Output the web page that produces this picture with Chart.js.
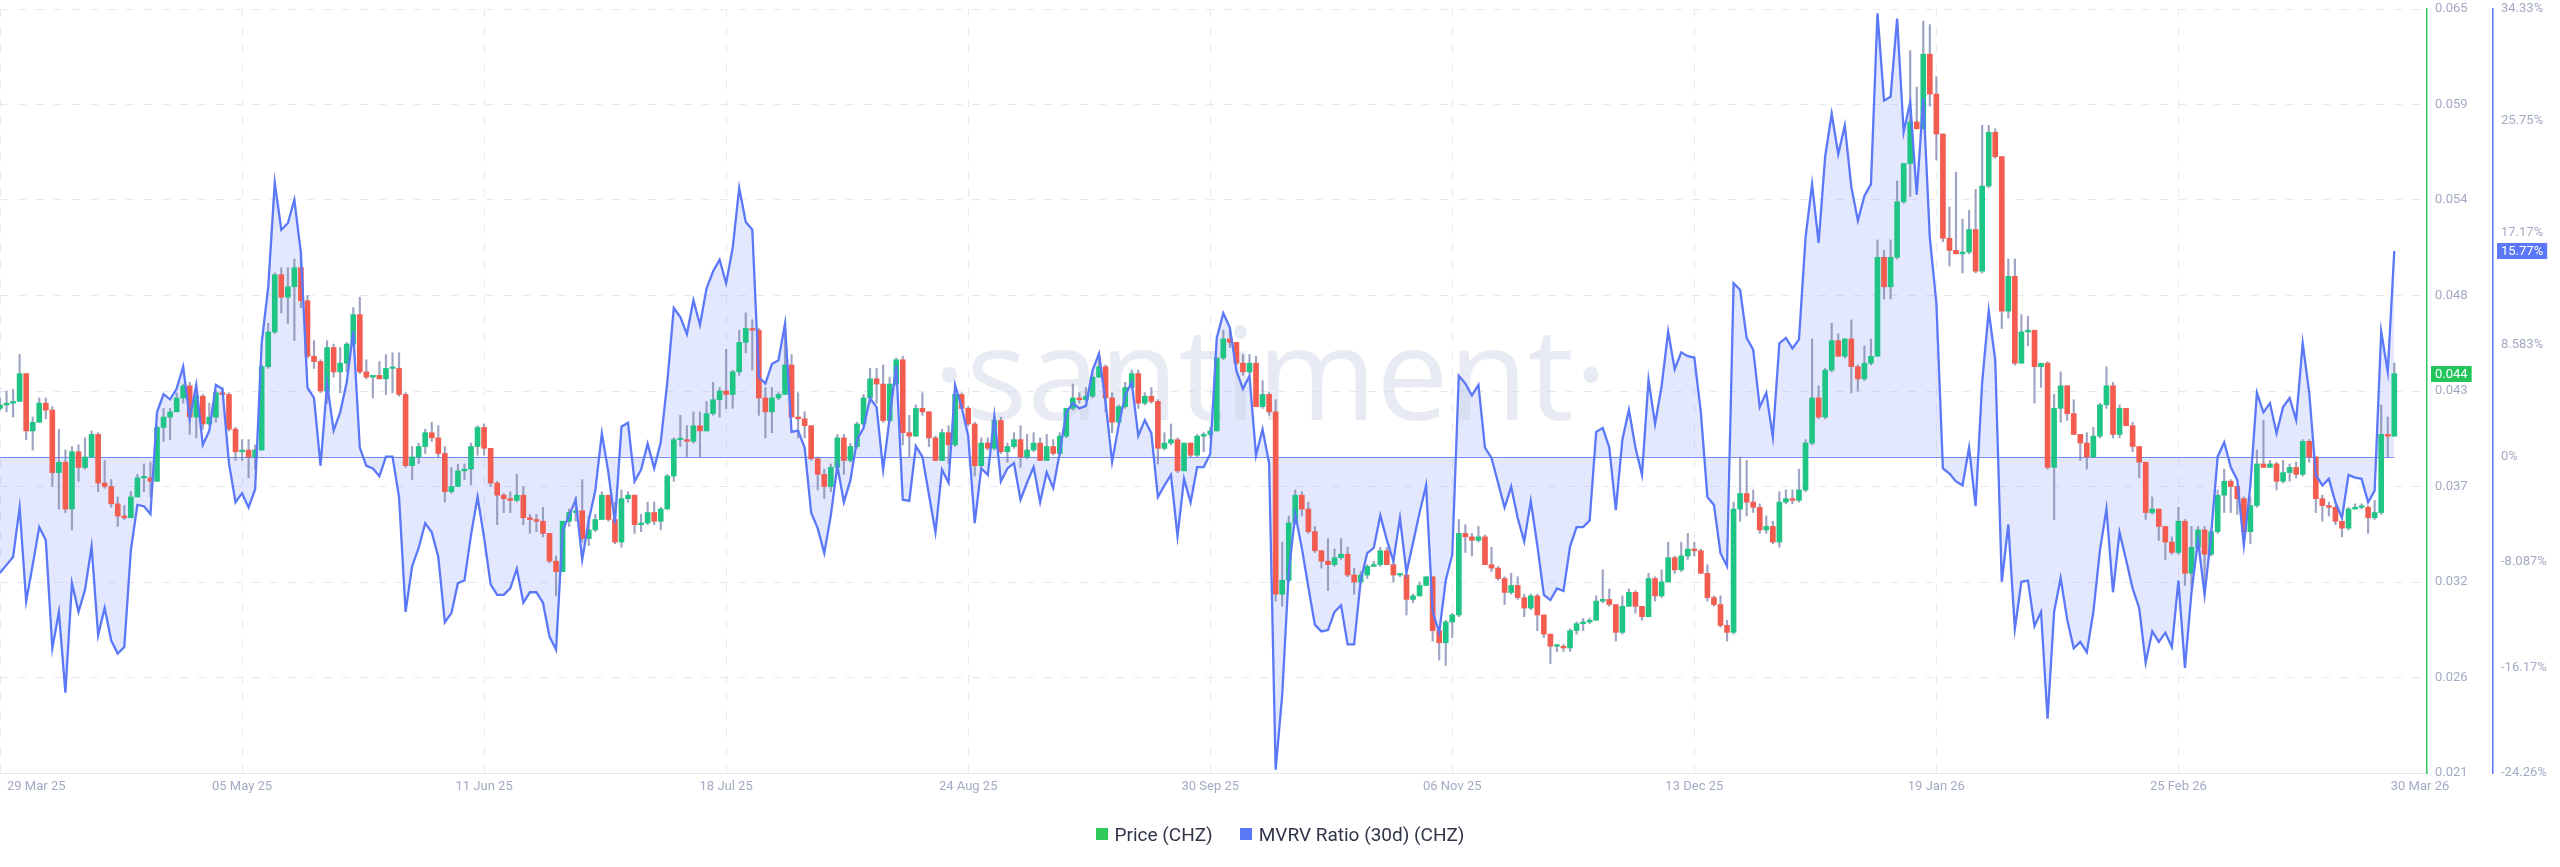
<!DOCTYPE html>
<html>
<head>
<meta charset="utf-8">
<script src="https://cdn.jsdelivr.net/npm/chart.js@4.4.1/dist/chart.umd.min.js"></script>
<style>
  html, body { margin: 0; padding: 0; background: #fff; }
  #wrap { position: relative; width: 2560px; height: 867px; }
  #legend {
    position: absolute; left: 0; right: 0; top: 823px; height: 22px;
    display: flex; justify-content: center; align-items: center;
    font-family: Roboto, sans-serif; font-size: 19px; color: #30354a;
  }
  #legend .sw { display: inline-block; width: 12px; height: 12px; margin-right: 7px; }
  #legend .gap { display: inline-block; width: 27px; }
</style>
</head>
<body>
<div id="wrap">
  <canvas id="chart" width="2560" height="867"></canvas>
  <div id="legend">
    <span class="sw" style="background:#2ecb5c"></span><span>Price (CHZ)</span>
    <span class="gap"></span>
    <span class="sw" style="background:#5a78f8"></span><span>MVRV Ratio (30d) (CHZ)</span>
  </div>
</div>
<script>
// daily data, 29 Mar 25 (day 0) .. 30 Mar 26 (day 366)
const firstOpen = 0.0420;

const closes = [
  0.0422,0.0423,0.0424,0.0440,0.0407,0.0412,0.0423,0.0419,0.0383,0.0389,
  0.0362,0.0395,0.0386,0.0392,0.0405,0.0377,0.0375,0.0365,0.0358,0.0357,
  0.0369,0.0380,0.0380,0.0378,0.0409,0.0415,0.0418,0.0426,0.0433,0.0415,
  0.0427,0.0411,0.0415,0.0429,0.0428,0.0408,0.0395,0.0396,0.0392,0.0396,
  0.0444,0.0464,0.0497,0.0484,0.0490,0.0501,0.0482,0.0450,0.0447,0.0430,
  0.0455,0.0441,0.0446,0.0457,0.0474,0.0441,0.0438,0.0439,0.0437,0.0443,
  0.0443,0.0428,0.0387,0.0392,0.0398,0.0406,0.0403,0.0394,0.0372,0.0375,
  0.0384,0.0385,0.0398,0.0409,0.0397,0.0377,0.0370,0.0368,0.0367,0.0370,
  0.0357,0.0356,0.0355,0.0348,0.0332,0.0326,0.0355,0.0360,0.0361,0.0345,
  0.0350,0.0356,0.0370,0.0356,0.0343,0.0368,0.0370,0.0353,0.0354,0.0360,
  0.0355,0.0362,0.0381,0.0402,0.0402,0.0401,0.0410,0.0407,0.0417,0.0425,
  0.0430,0.0428,0.0441,0.0458,0.0466,0.0465,0.0426,0.0418,0.0426,0.0428,
  0.0445,0.0415,0.0414,0.0410,0.0391,0.0382,0.0375,0.0386,0.0403,0.0390,
  0.0398,0.0411,0.0426,0.0437,0.0434,0.0413,0.0434,0.0448,0.0406,0.0404,
  0.0420,0.0418,0.0403,0.0390,0.0406,0.0399,0.0428,0.0420,0.0411,0.0387,
  0.0400,0.0397,0.0413,0.0395,0.0398,0.0402,0.0392,0.0396,0.0400,0.0390,
  0.0398,0.0394,0.0404,0.0420,0.0426,0.0425,0.0427,0.0438,0.0444,0.0426,
  0.0412,0.0421,0.0432,0.0440,0.0423,0.0427,0.0424,0.0397,0.0400,0.0402,
  0.0384,0.0400,0.0393,0.0404,0.0405,0.0407,0.0449,0.0460,0.0458,0.0446,
  0.0441,0.0446,0.0421,0.0428,0.0418,0.0313,0.0321,0.0354,0.0370,0.0362,
  0.0349,0.0338,0.0332,0.0330,0.0334,0.0336,0.0324,0.0320,0.0324,0.0329,
  0.0330,0.0338,0.0330,0.0324,0.0324,0.0310,0.0312,0.0318,0.0323,0.0292,
  0.0285,0.0297,0.0301,0.0348,0.0346,0.0344,0.0346,0.0330,0.0328,0.0322,
  0.0314,0.0318,0.0311,0.0305,0.0312,0.0301,0.0290,0.0283,0.0283,0.0282,
  0.0292,0.0296,0.0297,0.0298,0.0309,0.0310,0.0307,0.0291,0.0306,0.0314,
  0.0306,0.0300,0.0322,0.0312,0.0320,0.0334,0.0327,0.0335,0.0339,0.0338,
  0.0325,0.0311,0.0307,0.0295,0.0291,0.0362,0.0371,0.0366,0.0363,0.0350,
  0.0352,0.0343,0.0366,0.0368,0.0367,0.0373,0.0400,0.0426,0.0415,0.0442,
  0.0459,0.0450,0.0460,0.0444,0.0437,0.0446,0.0450,0.0507,0.0490,0.0507,
  0.0539,0.0561,0.0585,0.0581,0.0624,0.0601,0.0578,0.0518,0.0511,0.0509,
  0.0510,0.0523,0.0499,0.0548,0.0579,0.0565,0.0476,0.0496,0.0446,0.0464,
  0.0465,0.0444,0.0446,0.0386,0.0420,0.0433,0.0417,0.0405,0.0400,0.0392,
  0.0404,0.0422,0.0433,0.0405,0.0420,0.0410,0.0398,0.0389,0.0360,0.0362,
  0.0352,0.0343,0.0337,0.0355,0.0325,0.0340,0.0350,0.0336,0.0349,0.0370,
  0.0378,0.0375,0.0368,0.0349,0.0364,0.0388,0.0386,0.0388,0.0378,0.0383,
  0.0386,0.0382,0.0401,0.0392,0.0368,0.0364,0.0363,0.0355,0.0351,0.0362,
  0.0363,0.0363,0.0357,0.0360,0.0405,0.0404,0.0440
];

const highs = [
  0.0426,0.0430,0.0431,0.0451,0.0440,0.0415,0.0426,0.0426,0.0421,0.0408,
  0.0396,0.0398,0.0399,0.0403,0.0407,0.0406,0.0390,0.0379,0.0369,0.0364,
  0.0372,0.0382,0.0388,0.0389,0.0410,0.0420,0.0420,0.0429,0.0434,0.0435,
  0.0428,0.0428,0.0423,0.0430,0.0432,0.0429,0.0409,0.0402,0.0402,0.0399,
  0.0445,0.0469,0.0498,0.0501,0.0501,0.0506,0.0511,0.0485,0.0459,0.0448,
  0.0459,0.0457,0.0455,0.0458,0.0478,0.0484,0.0448,0.0439,0.0447,0.0451,
  0.0452,0.0452,0.0429,0.0398,0.0400,0.0408,0.0412,0.0410,0.0398,0.0386,
  0.0388,0.0388,0.0400,0.0410,0.0411,0.0397,0.0378,0.0371,0.0372,0.0382,
  0.0375,0.0359,0.0359,0.0363,0.0348,0.0335,0.0355,0.0362,0.0369,0.0379,
  0.0358,0.0359,0.0372,0.0370,0.0366,0.0373,0.0372,0.0370,0.0359,0.0366,
  0.0366,0.0363,0.0382,0.0403,0.0416,0.0410,0.0418,0.0418,0.0424,0.0435,
  0.0432,0.0454,0.0442,0.0465,0.0475,0.0471,0.0466,0.0432,0.0432,0.0429,
  0.0469,0.0451,0.0429,0.0418,0.0410,0.0392,0.0385,0.0388,0.0405,0.0405,
  0.0400,0.0412,0.0428,0.0443,0.0443,0.0445,0.0438,0.0449,0.0450,0.0416,
  0.0422,0.0429,0.0418,0.0404,0.0408,0.0410,0.0429,0.0429,0.0421,0.0412,
  0.0403,0.0403,0.0414,0.0415,0.0400,0.0406,0.0410,0.0405,0.0406,0.0403,
  0.0405,0.0402,0.0406,0.0420,0.0434,0.0429,0.0432,0.0441,0.0451,0.0445,
  0.0429,0.0422,0.0435,0.0442,0.0442,0.0429,0.0432,0.0425,0.0406,0.0411,
  0.0403,0.0400,0.0400,0.0405,0.0406,0.0409,0.0449,0.0465,0.0465,0.0458,
  0.0451,0.0451,0.0450,0.0436,0.0429,0.0425,0.0343,0.0358,0.0373,0.0372,
  0.0366,0.0352,0.0338,0.0345,0.0339,0.0345,0.0340,0.0328,0.0326,0.0330,
  0.0332,0.0340,0.0340,0.0333,0.0325,0.0325,0.0313,0.0320,0.0323,0.0323,
  0.0293,0.0298,0.0302,0.0356,0.0353,0.0348,0.0352,0.0347,0.0340,0.0329,
  0.0323,0.0325,0.0323,0.0313,0.0313,0.0313,0.0301,0.0289,0.0284,0.0284,
  0.0293,0.0297,0.0299,0.0299,0.0312,0.0327,0.0316,0.0306,0.0312,0.0316,
  0.0315,0.0306,0.0325,0.0323,0.0327,0.0343,0.0335,0.0343,0.0348,0.0343,
  0.0339,0.0330,0.0312,0.0312,0.0298,0.0366,0.0392,0.0390,0.0373,0.0365,
  0.0358,0.0355,0.0372,0.0373,0.0373,0.0385,0.0402,0.0460,0.0433,0.0443,
  0.0469,0.0463,0.0460,0.0471,0.0445,0.0456,0.0460,0.0517,0.0511,0.0517,
  0.0551,0.0551,0.0626,0.0605,0.0643,0.0641,0.0611,0.0578,0.0536,0.0556,
  0.0529,0.0534,0.0546,0.0583,0.0583,0.0581,0.0565,0.0506,0.0506,0.0474,
  0.0473,0.0458,0.0446,0.0447,0.0428,0.0441,0.0433,0.0425,0.0405,0.0406,
  0.0409,0.0423,0.0444,0.0435,0.0422,0.0420,0.0412,0.0398,0.0388,0.0369,
  0.0362,0.0352,0.0346,0.0363,0.0356,0.0352,0.0352,0.0352,0.0350,0.0373,
  0.0385,0.0379,0.0374,0.0369,0.0369,0.0396,0.0413,0.0390,0.0389,0.0390,
  0.0388,0.0389,0.0402,0.0402,0.0392,0.0370,0.0366,0.0364,0.0355,0.0363,
  0.0365,0.0365,0.0364,0.0367,0.0422,0.0415,0.0446
];

const lows = [
  0.0419,0.0418,0.0415,0.0424,0.0402,0.0396,0.0412,0.0414,0.0375,0.0362,
  0.0360,0.0350,0.0378,0.0385,0.0392,0.0372,0.0374,0.0363,0.0352,0.0356,
  0.0357,0.0369,0.0372,0.0369,0.0378,0.0401,0.0402,0.0418,0.0423,0.0405,
  0.0403,0.0408,0.0410,0.0412,0.0428,0.0407,0.0390,0.0390,0.0380,0.0385,
  0.0396,0.0443,0.0463,0.0475,0.0469,0.0459,0.0478,0.0449,0.0443,0.0429,
  0.0423,0.0438,0.0429,0.0441,0.0456,0.0440,0.0437,0.0426,0.0437,0.0428,
  0.0429,0.0427,0.0386,0.0379,0.0388,0.0394,0.0401,0.0392,0.0366,0.0371,
  0.0375,0.0379,0.0376,0.0393,0.0393,0.0375,0.0353,0.0360,0.0360,0.0366,
  0.0353,0.0348,0.0349,0.0346,0.0331,0.0312,0.0326,0.0352,0.0355,0.0343,
  0.0341,0.0349,0.0356,0.0355,0.0342,0.0340,0.0366,0.0348,0.0349,0.0353,
  0.0353,0.0350,0.0362,0.0378,0.0398,0.0392,0.0400,0.0392,0.0407,0.0416,
  0.0415,0.0420,0.0420,0.0439,0.0452,0.0442,0.0416,0.0403,0.0406,0.0425,
  0.0428,0.0415,0.0403,0.0403,0.0390,0.0373,0.0368,0.0372,0.0386,0.0382,
  0.0389,0.0397,0.0410,0.0423,0.0423,0.0412,0.0412,0.0433,0.0399,0.0392,
  0.0404,0.0416,0.0398,0.0390,0.0390,0.0388,0.0398,0.0420,0.0410,0.0381,
  0.0386,0.0396,0.0396,0.0394,0.0389,0.0397,0.0386,0.0391,0.0395,0.0390,
  0.0390,0.0393,0.0393,0.0403,0.0419,0.0423,0.0424,0.0426,0.0438,0.0418,
  0.0406,0.0411,0.0420,0.0432,0.0420,0.0422,0.0423,0.0388,0.0396,0.0399,
  0.0383,0.0384,0.0392,0.0392,0.0395,0.0403,0.0407,0.0448,0.0455,0.0445,
  0.0439,0.0440,0.0421,0.0420,0.0416,0.0309,0.0306,0.0320,0.0353,0.0358,
  0.0348,0.0337,0.0328,0.0315,0.0329,0.0333,0.0323,0.0313,0.0319,0.0322,
  0.0329,0.0329,0.0330,0.0320,0.0323,0.0301,0.0308,0.0312,0.0318,0.0286,
  0.0275,0.0272,0.0288,0.0300,0.0337,0.0335,0.0343,0.0330,0.0326,0.0321,
  0.0307,0.0313,0.0310,0.0300,0.0304,0.0292,0.0288,0.0273,0.0280,0.0280,
  0.0280,0.0290,0.0292,0.0296,0.0298,0.0308,0.0306,0.0286,0.0290,0.0306,
  0.0302,0.0298,0.0300,0.0309,0.0311,0.0320,0.0325,0.0326,0.0333,0.0335,
  0.0325,0.0309,0.0306,0.0294,0.0286,0.0290,0.0355,0.0358,0.0360,0.0348,
  0.0348,0.0342,0.0340,0.0365,0.0365,0.0366,0.0372,0.0399,0.0414,0.0414,
  0.0441,0.0450,0.0449,0.0429,0.0430,0.0436,0.0445,0.0450,0.0483,0.0483,
  0.0506,0.0538,0.0542,0.0581,0.0581,0.0594,0.0563,0.0516,0.0502,0.0509,
  0.0498,0.0509,0.0498,0.0498,0.0547,0.0564,0.0466,0.0472,0.0445,0.0446,
  0.0456,0.0423,0.0432,0.0385,0.0356,0.0412,0.0413,0.0405,0.0390,0.0385,
  0.0392,0.0403,0.0420,0.0403,0.0403,0.0410,0.0395,0.0380,0.0356,0.0359,
  0.0344,0.0333,0.0336,0.0336,0.0318,0.0316,0.0338,0.0316,0.0335,0.0348,
  0.0360,0.0360,0.0359,0.0348,0.0342,0.0363,0.0386,0.0386,0.0373,0.0377,
  0.0378,0.0380,0.0381,0.0389,0.0360,0.0355,0.0358,0.0353,0.0346,0.0350,
  0.0362,0.0362,0.0348,0.0356,0.0359,0.0392,0.0404
];

// MVRV ratio (30d), percent
const mvrv = [
  -8.9,-8.3,-7.7,-3.9,-11.1,-8.3,-5.4,-6.4,-14.7,-11.9,
  -18.1,-9.7,-11.9,-10.2,-6.9,-13.7,-11.6,-14.1,-15.1,-14.6,
  -7.2,-3.7,-3.8,-4.4,3.4,4.8,4.4,5.2,6.9,2.9,
  5.5,0.9,2.0,5.5,5.2,-0.5,-3.5,-2.8,-3.9,-2.5,
  8.7,13.0,21.0,17.4,17.9,19.7,15.6,5.3,4.5,-0.7,
  5.6,2.0,3.4,5.7,9.6,0.7,-0.7,-0.9,-1.5,0,
  0,-3.1,-11.9,-8.4,-7.0,-5.1,-5.8,-7.7,-12.7,-12.0,
  -9.7,-9.5,-6.0,-3.1,-6.2,-9.8,-10.6,-10.6,-10.1,-8.6,
  -11.2,-10.4,-10.4,-11.2,-13.8,-14.8,-5.7,-4.5,-3.3,-7.9,
  -4.9,-2.6,1.8,-1.2,-5.1,2.3,2.6,-1.9,-1.0,1.0,
  -0.9,1.1,5.7,11.4,10.7,9.4,12.0,10.1,12.9,14.2,
  15.1,13.3,16.0,20.6,18.0,17.4,6.1,5.6,7.1,7.4,
  10.2,1.9,2.0,0.7,-4.3,-5.5,-7.4,-4.5,-0.7,-3.5,
  -1.8,1.3,2.2,4.5,3.8,-1.0,3.0,7.0,-3.3,-3.4,
  0.8,0,-2.9,-5.8,-1.0,-2.0,5.5,3.8,1.6,-5.1,
  -0.9,-1.4,3.1,-1.9,-0.9,-0.5,-3.3,-2.0,-0.8,-3.5,
  -1.2,-2.4,0.3,3.4,4.1,3.7,3.9,6.6,7.9,4.2,
  -0.4,2.4,4.7,5.7,1.6,2.8,1.8,-3.1,-2.2,-1.4,
  -6.1,-1.7,-3.5,-0.8,-0.8,0.2,9.1,11.0,9.9,6.6,
  5.2,6.2,0.1,2.1,-0.5,-24.0,-18.3,-8.9,-4.4,-7.0,
  -10.0,-12.9,-13.4,-13.3,-11.9,-11.4,-14.4,-14.4,-9.5,-7.4,
  -7.0,-4.5,-6.4,-8.0,-4.7,-8.9,-6.6,-4.3,-2.2,-11.9,
  -13.5,-9.5,-7.5,6.2,5.6,4.7,5.5,0.7,-0.1,-2.0,
  -3.9,-2.3,-4.7,-6.5,-3.4,-6.8,-10.6,-11.0,-10.1,-10.3,
  -6.9,-5.4,-5.4,-4.9,1.9,2.2,0.7,-4.1,1.3,3.6,
  0.7,-1.4,5.9,2.5,5.4,9.6,6.7,8.0,7.7,7.6,
  3.4,-3.1,-3.7,-7.4,-8.4,13.3,12.8,9.1,8.2,3.8,
  4.9,1.5,8.7,9.1,8.3,9.0,16.8,20.9,16.4,23.0,
  26.3,23.2,25.4,20.7,18.1,20.0,20.9,34.0,27.3,27.6,
  33.6,24.9,27.2,20.1,27.5,16.8,11.8,-0.9,-1.3,-1.9,
  -2.2,0.7,-3.8,5.7,11.2,7.4,-9.6,-5.2,-13.2,-9.6,
  -9.5,-13.0,-11.9,-20.1,-11.9,-9.3,-12.5,-14.7,-14.2,-15.0,
  -11.9,-7.2,-4.0,-10.4,-5.8,-7.9,-10.1,-11.6,-15.8,-13.4,
  -14.2,-13.5,-14.6,-9.5,-16.2,-10.4,-6.4,-10.6,-6.0,0.0,
  1.1,-0.8,-1.8,-6.8,-2.2,4.9,3.4,4.1,1.8,3.8,
  4.5,2.8,8.7,4.9,-1.4,-2.2,-1.7,-3.5,-4.7,-1.4,
  -1.6,-1.7,-3.5,-2.6,9.6,6.5,15.77
];

const xTickDays = [0, 37, 74, 111, 148, 185, 222, 259, 296, 333];
const xTickLabels = ['29 Mar 25', '05 May 25', '11 Jun 25', '18 Jul 25', '24 Aug 25',
  '30 Sep 25', '06 Nov 25', '13 Dec 25', '19 Jan 26', '25 Feb 26', '30 Mar 26'];

const priceTicks = [0.021, 0.0265, 0.032, 0.0375, 0.043, 0.0485, 0.054, 0.0595, 0.065];
const priceTickLabels = ['0.021', '0.026', '0.032', '0.037', '0.043', '0.048', '0.054', '0.059', '0.065'];

const mvrvTicks = [-24.26, -16.17, -8.087, 0, 8.583, 17.17, 25.75, 34.33];
const mvrvTickLabels = ['-24.26%', '-16.17%', '-8.087%', '0%', '8.583%', '17.17%', '25.75%', '34.33%'];

const GREEN = '#1fc585';
const RED = '#f45c50';
const BLUE = '#5a78f8';
const AXIS_GREEN = '#2ecb5c';
const TICK_COLOR = '#a3aac3';
const GRID = '#e7e9f2';
const FONT = 'Roboto, sans-serif';

const opens = closes.map((c, i) => (i === 0 ? firstOpen : closes[i - 1]));
const lastDay = closes.length - 1;

const bodyData = closes.map((c, i) => ({ x: i, y: [opens[i], c] }));
const bodyColors = closes.map((c, i) => (c >= opens[i] ? GREEN : RED));
const wickData = closes.map((c, i) => ({
  x: i,
  y: [Math.min(lows[i], opens[i], c), Math.max(highs[i], opens[i], c)],
}));
const mvrvData = mvrv.map((v, i) => ({ x: i, y: v }));

// keep the plot area flush with the layout padding
const fitRightAxis = (width) => (scale) => {
  scale.width = width;
  scale.paddingTop = 0;
  scale.paddingBottom = 0;
};

const decorPlugin = {
  id: 'decor',
  beforeDatasetsDraw(chart) {
    const { ctx, chartArea, scales } = chart;
    // watermark
    ctx.save();
    ctx.fillStyle = 'rgba(205, 210, 228, 0.45)';
    ctx.font = `400 130px "Open Sans"`;
    const w = ctx.measureText('santiment').width;
    const size = Math.round(130 * 609 / w);
    ctx.font = `400 ${size}px "Open Sans"`;
    ctx.textAlign = 'center';
    ctx.textBaseline = 'alphabetic';
    ctx.fillText('·santiment·', 1270, 420);
    ctx.restore();

    // zero line of MVRV
    const y0 = scales.y2.getPixelForValue(0);
    ctx.save();
    ctx.strokeStyle = 'rgba(90, 120, 248, 0.85)';
    ctx.lineWidth = 1;
    ctx.beginPath();
    ctx.moveTo(chartArea.left, Math.round(y0) + 0.5);
    ctx.lineTo(scales.x.getPixelForValue(lastDay), Math.round(y0) + 0.5);
    ctx.stroke();
    ctx.restore();
  },
  afterDraw(chart) {
    const { ctx, chartArea, scales } = chart;
    ctx.save();
    // x tick labels
    ctx.font = `13px ${FONT}`;
    ctx.fillStyle = TICK_COLOR;
    ctx.textBaseline = 'middle';
    const ly = chartArea.bottom + 14;
    xTickDays.forEach((d, i) => {
      const px = scales.x.getPixelForValue(d);
      if (i === 0) {
        ctx.textAlign = 'left';
        ctx.fillText(xTickLabels[i], px + 7, ly);
      } else {
        ctx.textAlign = 'center';
        ctx.fillText(xTickLabels[i], px, ly);
      }
    });
    ctx.textAlign = 'center';
    ctx.fillText(xTickLabels[xTickLabels.length - 1], chartArea.right - 7, ly);

    // last value badges
    const badge = (text, x, y, color) => {
      ctx.font = `13px ${FONT}`;
      const tw = ctx.measureText(text).width;
      ctx.fillStyle = color;
      ctx.fillRect(x, Math.round(y) - 8, tw + 8, 16);
      ctx.fillStyle = '#ffffff';
      ctx.textAlign = 'left';
      ctx.textBaseline = 'middle';
      ctx.fillText(text, x + 4, Math.round(y) + 0.5);
    };
    const lastPrice = closes[lastDay];
    badge(lastPrice.toFixed(3), scales.y.left + 4, scales.y.getPixelForValue(lastPrice), '#23c55a');
    const lastMvrv = mvrv[lastDay];
    badge(lastMvrv.toFixed(2) + '%', scales.y2.left + 4, scales.y2.getPixelForValue(lastMvrv), BLUE);
    ctx.restore();
  },
};

new Chart(document.getElementById('chart'), {
  type: 'bar',
  data: {
    datasets: [
      {
        type: 'line',
        label: 'MVRV Ratio (30d) (CHZ)',
        data: mvrvData,
        yAxisID: 'y2',
        borderColor: BLUE,
        borderWidth: 2.3,
        backgroundColor: 'rgba(90, 120, 248, 0.17)',
        fill: { value: 0 },
        pointRadius: 0,
        tension: 0,
        order: 0,
      },
      {
        label: 'Price (CHZ)',
        data: bodyData,
        yAxisID: 'y',
        backgroundColor: bodyColors,
        borderWidth: 0,
        barThickness: 5,
        minBarLength: 1.5,
        grouped: false,
        order: 1,
      },
      {
        label: 'wicks',
        data: wickData,
        yAxisID: 'y',
        backgroundColor: 'rgba(125, 134, 172, 0.75)',
        borderWidth: 0,
        barThickness: 1.5,
        grouped: false,
        order: 2,
      },
    ],
  },
  options: {
    responsive: false,
    animation: false,
    layout: { padding: { top: 9, bottom: 54, left: 0, right: 0 } },
    plugins: {
      legend: { display: false },
      tooltip: { enabled: false },
      filler: { drawTime: 'beforeDatasetsDraw' },
    },
    scales: {
      x: {
        type: 'linear',
        min: 0,
        max: 371,
        offset: false,
        afterBuildTicks: (scale) => {
          scale.ticks = xTickDays.map((v) => ({ value: v }));
        },
        afterFit: (scale) => { scale.height = 40; },
        ticks: { display: false },
        grid: { color: GRID, drawTicks: false, offset: false },
        border: { color: '#e3e6ef', dash: [8, 10] },
      },
      y: {
        position: 'right',
        weight: 1,
        min: 0.021,
        max: 0.065,
        afterBuildTicks: (scale) => {
          scale.ticks = priceTicks.map((v) => ({ value: v }));
        },
        afterFit: fitRightAxis(66),
        ticks: {
          padding: 8,
          color: TICK_COLOR,
          font: { family: FONT, size: 13 },
          callback: (v, i) => priceTickLabels[i],
        },
        grid: { color: GRID, drawTicks: false },
        border: { color: AXIS_GREEN, width: 1.5, dash: [8, 10] },
      },
      y2: {
        position: 'right',
        weight: 2,
        min: -24.26,
        max: 34.33,
        afterBuildTicks: (scale) => {
          scale.ticks = mvrvTicks.map((v) => ({ value: v }));
        },
        afterFit: fitRightAxis(67),
        ticks: {
          padding: 8,
          color: TICK_COLOR,
          font: { family: FONT, size: 13 },
          callback: (v, i) => mvrvTickLabels[i],
        },
        grid: { display: false, drawOnChartArea: false, drawTicks: false },
        border: { color: BLUE, width: 1.5 },
      },
    },
  },
  plugins: [decorPlugin],
});
</script>
</body>
</html>
